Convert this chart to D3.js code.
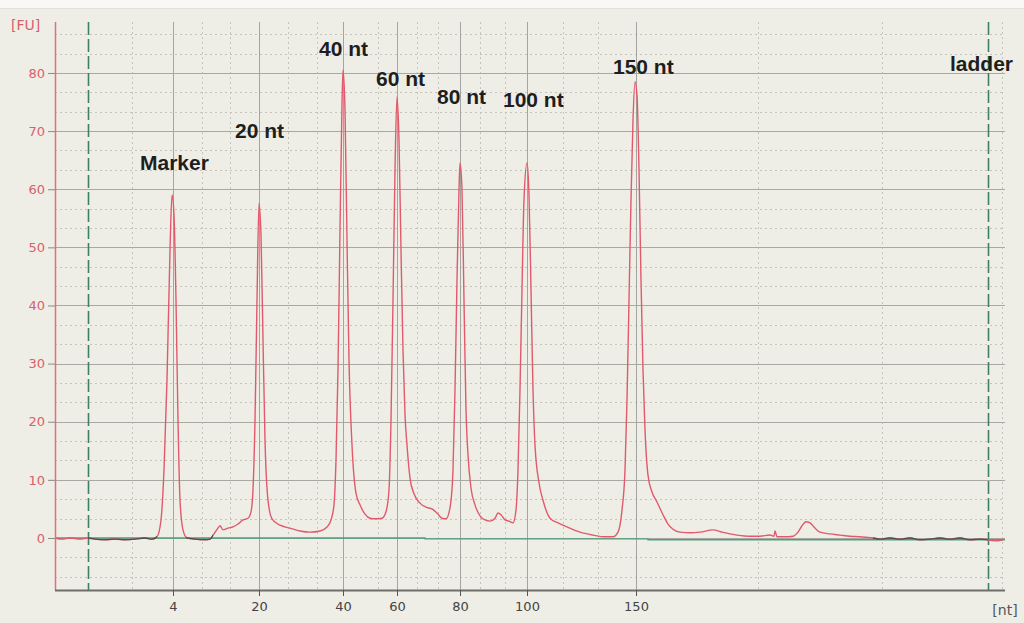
<!DOCTYPE html>
<html><head><meta charset="utf-8">
<script src="https://cdn.jsdelivr.net/npm/d3@7/dist/d3.min.js"></script>
<style>
html,body{margin:0;padding:0;background:#efeee6;}
svg{display:block;}
</style></head>
<body>
<svg id="chart" width="1024" height="623"></svg>
<script>
// ---- data (migration time in s, fluorescence in FU) ----
const xTickLabels = ["4", "20", "40", "60", "80", "100", "150"];
const xTickTimes  = [24.90, 29.20, 33.40, 36.10, 39.25, 42.60, 48.05];
const xMinorTimes = [22.85, 26.35, 27.75, 30.65, 32.10, 35.15, 37.10, 38.15, 40.25, 41.50, 44.40, 46.15, 54.15, 60.35, 66.35];
const markerLineTimes = [20.65, 65.65];
const yTickValues = [0, 10, 20, 30, 40, 50, 60, 70, 80];
const peakLabels = ["Marker", "20 nt", "40 nt", "60 nt", "80 nt", "100 nt", "150 nt", "ladder"];
const peakLabelTimes = [23.25, 28.0, 32.2, 35.05, 38.1, 41.4, 46.9, 63.75];
const peakLabelFU = [63.3, 68.8, 82.9, 77.7, 74.7, 74.2, 79.8, 80.3];
const darkRanges = [[20.65, 24.1], [25.55, 26.9], [59.9, 65.65]];
const baselineT = [19.0, 37.5, 37.5, 48.65, 48.65, 66.5];
const baselineV = [0.0, 0.0, -0.15, -0.15, -0.3, -0.3];

const traceT = [19.00,19.35,19.75,20.25,20.65,21.00,21.50,22.00,22.50,23.00,23.50,23.85,24.10,
24.30,24.45,24.60,24.75,24.85,24.95,25.05,25.15,25.25,25.40,25.60,26.00,26.50,26.75,26.95,27.15,27.25,27.40,27.65,27.90,28.15,28.40,28.65,28.80,
28.90,29.00,29.10,29.20,29.30,29.40,29.50,29.65,29.85,30.25,30.75,31.25,31.75,32.25,32.60,32.80,32.95,
33.05,33.15,33.25,33.35,33.40,33.50,33.60,33.70,33.85,34.05,34.25,34.50,34.75,35.05,35.35,35.55,35.70,
35.80,35.90,36.00,36.10,36.20,36.30,36.40,36.50,36.60,36.75,36.95,37.25,37.55,37.85,38.10,38.35,38.55,38.75,
38.90,39.00,39.10,39.20,39.25,39.35,39.45,39.55,39.65,39.80,40.00,40.25,40.50,40.75,41.00,41.15,41.30,41.50,41.70,41.90,42.05,
42.15,42.25,42.35,42.45,42.60,42.70,42.80,42.90,43.00,43.20,43.40,43.75,44.15,44.60,45.25,45.90,46.50,46.90,47.15,
47.35,47.50,47.60,47.70,47.80,47.90,48.00,48.10,48.20,48.30,48.40,48.50,48.65,48.85,49.10,49.40,49.65,49.90,50.25,50.75,51.25,51.90,52.35,53.10,53.75,54.25,54.75,54.95,55.00,55.10,55.50,55.90,56.15,56.35,56.55,56.75,57.00,57.25,57.75,58.25,58.75,59.25,59.90,
60.25,60.75,61.25,61.75,62.25,62.75,63.25,63.75,64.25,64.75,65.25,65.65,66.00,66.40];
const traceFU = [0.0,-0.2,0.0,-0.2,0.0,-0.2,-0.3,-0.2,-0.3,-0.2,0.0,-0.2,0.2,
3.1,11.7,27.2,49.5,59.0,55.6,40.9,20.3,6.5,1.4,0.0,-0.2,-0.3,-0.2,0.7,1.7,2.1,1.4,1.7,1.9,2.4,3.1,3.4,4.5,
8.3,20.3,40.9,57.6,52.1,34.1,16.9,6.5,3.3,2.2,1.7,1.2,1.0,1.2,1.9,3.1,5.7,
13.4,28.9,53.0,74.5,80.5,73.6,51.3,30.6,16.0,7.7,5.7,4.1,3.4,3.3,3.4,4.5,8.3,
20.3,40.9,63.3,75.9,68.5,49.5,32.3,21.2,16.0,10.3,7.6,6.0,5.3,5.0,4.3,3.4,3.3,5.2,
11.7,25.5,44.4,59.9,64.5,59.9,40.9,22.0,14.3,8.6,5.7,3.8,3.1,2.9,3.4,4.3,4.0,3.1,2.9,2.6,4.8,
11.7,25.5,42.7,58.2,64.5,59.0,42.7,25.5,16.0,9.5,6.5,3.4,2.6,1.9,1.0,0.5,0.2,0.2,1.0,
4.8,11.7,23.7,40.9,58.2,71.9,78.5,76.2,63.3,44.4,28.9,18.6,10.8,7.9,6.2,4.0,2.4,1.5,1.0,0.9,1.0,1.4,1.0,0.5,0.3,0.3,0.5,0.3,1.2,0.2,0.2,0.3,1.0,2.1,2.8,2.6,1.7,1.0,0.7,0.5,0.3,0.2,0.0,
-0.2,0.0,-0.2,0.0,-0.3,-0.2,0.0,-0.2,0.0,-0.3,-0.2,-0.3,-0.5,-0.3];

// ---- layout ----
const svg = d3.select("#chart");
const L = 55, R = 1005, T = 22, B = 590;
const x = d3.scaleLinear().domain([19, 66.5]).range([L, R]);
const y = d3.scaleLinear().domain([-8.95, 88.77]).range([B, T]);

svg.append("rect").attr("x",0).attr("y",0).attr("width",1024).attr("height",623).attr("fill","#efeee6");
svg.append("rect").attr("x",0).attr("y",0).attr("width",1024).attr("height",8).attr("fill","#f8f8f5");
svg.append("line").attr("x1",0).attr("x2",1024).attr("y1",8.5).attr("y2",8.5).attr("stroke","#e2e1da");

const grid = svg.append("g");
// minor horizontal grid (every 10/3 FU)
const minorY = d3.range(-6, 27).map(i => i * 10 / 3).filter(v => v > -8.9 && v < 88.7 && Math.abs(v/10 - Math.round(v/10)) > 0.01);
grid.selectAll(".hm").data(minorY).join("line")
  .attr("x1", L).attr("x2", R).attr("y1", d => Math.round(y(d)) + 0.5).attr("y2", d => Math.round(y(d)) + 0.5)
  .attr("stroke", "#c4c4bc").attr("stroke-dasharray", "2,3");
// minor vertical grid
grid.selectAll(".vm").data(xMinorTimes).join("line")
  .attr("x1", d => Math.round(x(d)) + 0.5).attr("x2", d => Math.round(x(d)) + 0.5).attr("y1", T).attr("y2", B)
  .attr("stroke", "#c4c4bc").attr("stroke-dasharray", "2,3");
// major horizontal grid
grid.selectAll(".hM").data(yTickValues).join("line")
  .attr("x1", L).attr("x2", R).attr("y1", d => Math.round(y(d)) + 0.5).attr("y2", d => Math.round(y(d)) + 0.5)
  .attr("stroke", "#a9a9a3").attr("stroke-width", 1);
// major vertical grid
grid.selectAll(".vM").data(xTickTimes).join("line")
  .attr("x1", d => Math.round(x(d)) + 0.5).attr("x2", d => Math.round(x(d)) + 0.5).attr("y1", T).attr("y2", B)
  .attr("stroke", "#a4a4a0").attr("stroke-width", 1);

// marker lines (green dashed)
svg.selectAll(".ml").data(markerLineTimes).join("line")
  .attr("x1", d => Math.round(x(d)) + 0.5).attr("x2", d => Math.round(x(d)) + 0.5).attr("y1", T).attr("y2", B)
  .attr("stroke", "#3f7f62").attr("stroke-width", 1.6).attr("stroke-dasharray", "13,4");

// baseline
const baseData = baselineT.map((t, i) => [t, baselineV[i]]);
svg.append("path").datum(baseData)
  .attr("d", d3.line().x(d => x(d[0])).y(d => y(d[1])))
  .attr("fill", "none").attr("stroke", "#4f9e7e").attr("stroke-width", 1.4);

// trace
const traceData = traceT.map((t, i) => [t, traceFU[i]]);
const line = d3.line().x(d => x(d[0])).y(d => y(d[1])).curve(d3.curveMonotoneX);
svg.append("path").datum(traceData).attr("d", line)
  .attr("fill", "none").attr("stroke", "#e05a6c").attr("stroke-width", 1.4).attr("stroke-linejoin", "round");

// dark segments
const defs = svg.append("defs");
const cp = defs.append("clipPath").attr("id", "darkclip");
cp.selectAll("rect").data(darkRanges).join("rect")
  .attr("x", d => x(d[0])).attr("width", d => x(d[1]) - x(d[0])).attr("y", T).attr("height", B - T);
svg.append("path").datum(traceData).attr("d", line).attr("clip-path", "url(#darkclip)")
  .attr("fill", "none").attr("stroke", "#505050").attr("stroke-width", 1.3);

// y axis
svg.append("line").attr("x1", L + 0.5).attr("x2", L + 0.5).attr("y1", T).attr("y2", B)
  .attr("stroke", "#e0707c").attr("stroke-width", 1.5);
const yAxis = d3.axisLeft(y).tickValues(yTickValues).tickSize(7).tickPadding(3).tickFormat(d3.format("d"));
const ya = svg.append("g").attr("transform", `translate(${L},0)`).call(yAxis);
ya.select(".domain").remove();
ya.selectAll(".tick line").attr("stroke", "#8a8a85");
ya.selectAll(".tick text").attr("fill", "#d8606c").attr("font-family", "DejaVu Sans").attr("font-size", 13);
svg.append("text").attr("x", 11).attr("y", 30).text("[FU]")
  .attr("fill", "#d8606c").attr("font-family", "DejaVu Sans").attr("font-size", 14);

// x axis
const xAxis = d3.axisBottom(x).tickValues(xTickTimes).tickSize(6).tickPadding(6)
  .tickFormat((d, i) => xTickLabels[i]);
const xa = svg.append("g").attr("transform", `translate(0,${B})`).call(xAxis);
xa.select(".domain").attr("stroke", "#6e6e6a").attr("stroke-width", 1.8).attr("d", `M${L},0.5H${R}`);
xa.selectAll(".tick line").attr("stroke", "#555");
xa.selectAll(".tick text").attr("fill", "#444").attr("font-family", "DejaVu Sans").attr("font-size", 13);
svg.append("text").attr("x", 1005).attr("y", 615).attr("text-anchor", "middle").text("[nt]")
  .attr("fill", "#555").attr("font-family", "DejaVu Sans").attr("font-size", 14);

// peak labels
svg.selectAll(".pl").data(peakLabels).join("text")
  .attr("x", (d, i) => x(peakLabelTimes[i])).attr("y", (d, i) => y(peakLabelFU[i]))
  .text(d => d)
  .attr("font-family", "Liberation Sans, Arial, sans-serif").attr("font-weight", "bold")
  .attr("font-size", 21).attr("fill", "#1e1e1e");
</script>
</body></html>
